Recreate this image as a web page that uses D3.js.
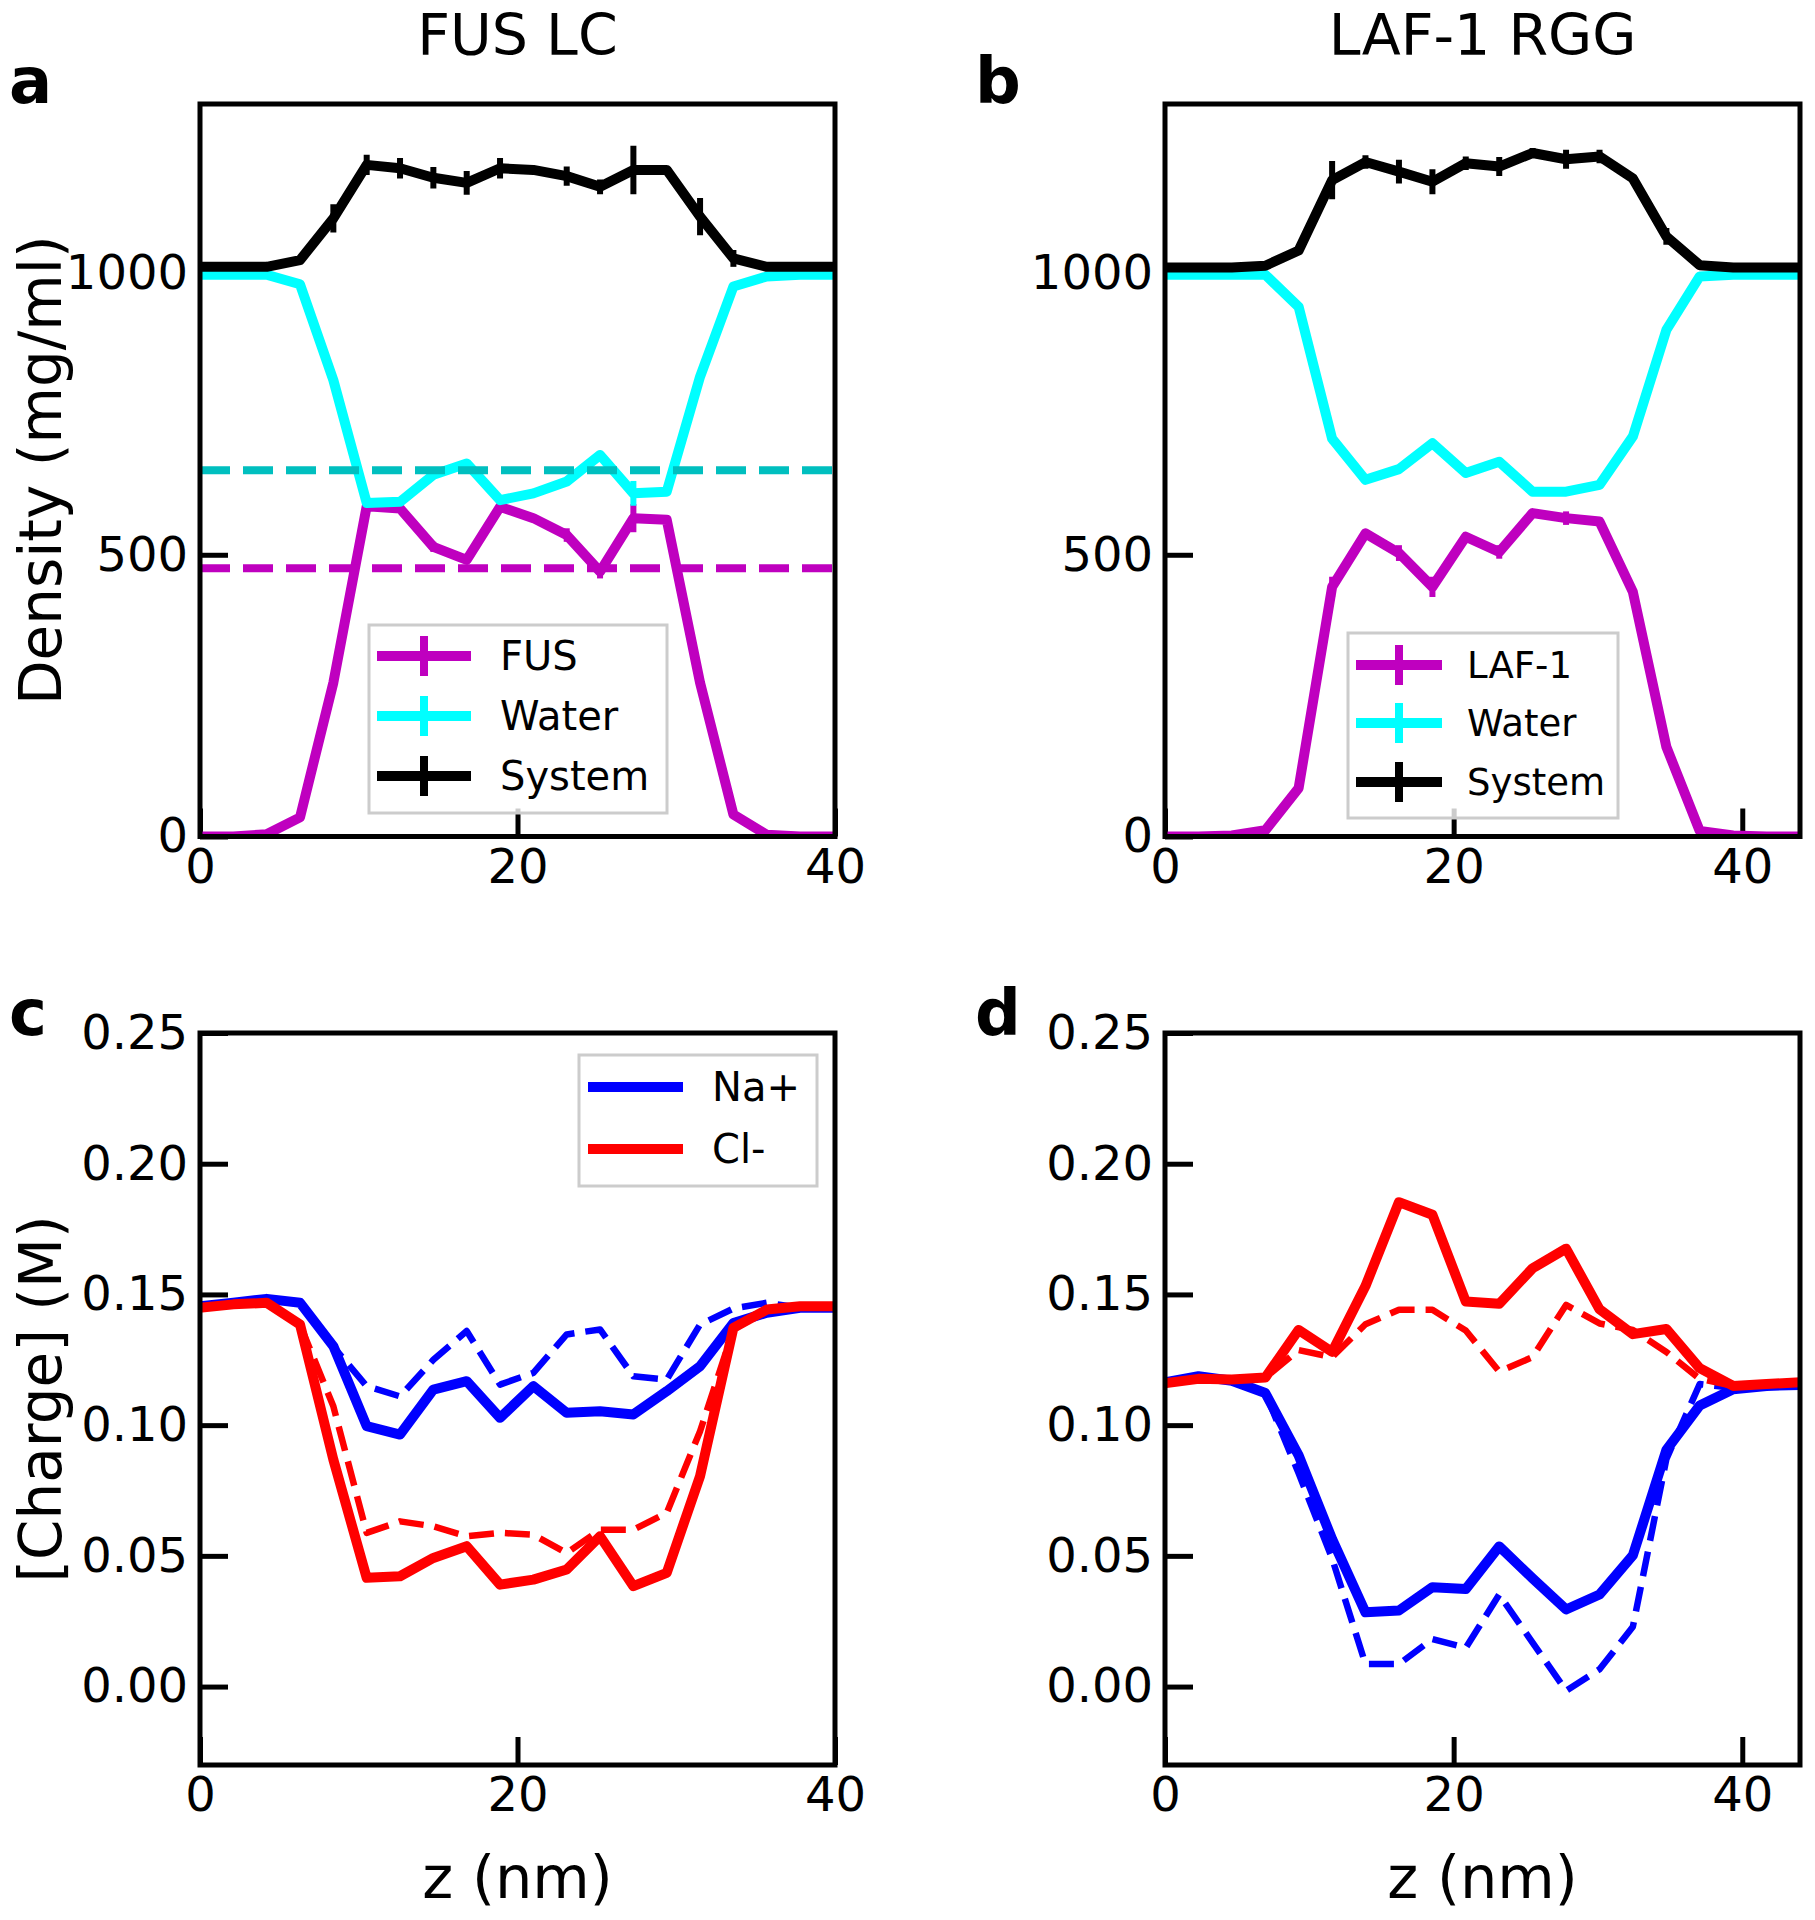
<!DOCTYPE html>
<html><head><meta charset="utf-8">
<script src="https://cdn.jsdelivr.net/npm/d3@7"></script>
<style>body{margin:0;background:#fff;} svg text{font-family:"DejaVu Sans",sans-serif;}</style>
</head><body><svg id="fig" width="1815" height="1920"></svg>
<script>
// ---------------- DATA ----------------
// z positions (nm) of the density bins
const zFus = [0,2.1,4.2,6.3,8.4,10.5,12.6,14.7,16.8,18.9,21.0,23.1,25.2,27.3,29.4,31.5,33.6,35.7,37.8,39.9];
const zLaf = [0,2.32,4.63,6.95,9.26,11.58,13.89,16.21,18.53,20.84,23.16,25.47,27.79,30.11,32.42,34.74,37.05,39.37,41.68,44.0];

// Panel a: FUS LC densities (mg/ml)
const fusDensity      = [0,0,4,34,273,586,582,514,491,585,565,535,470,565,562,273,39,3,0,0];
const fusDensityErr   = [0,0,0,0,0,0,6,9,0,0,0,12,12,25,0,0,0,0,0,0];
const waterDensityA   = [997,997,997,980,810,592,594,642,662,597,609,630,677,609,612,816,976,994,997,997];
const waterDensityAErr= [0,0,0,0,0,0,0,0,0,0,0,0,0,22,0,0,0,0,0,0];
const systemDensityA  = [1011,1011,1011,1023,1097,1192,1186,1169,1160,1186,1183,1172,1153,1183,1183,1100,1026,1011,1011,1011];
const systemDensityAErr=[0,0,0,0,25,18,18,19,21,18,5,17,13,43,5,33,15,0,0,0];
const fusReference    = 476;   // dashed magenta
const waterReferenceA = 650;   // dashed cyan

// Panel b: LAF-1 RGG densities (mg/ml)
const lafDensity      = [0,0,2,11,86,443,538,503,443,532,505,574,565,559,434,159,10,2,0,0];
const lafDensityErr   = [0,0,0,0,0,18,0,14,18,0,12,0,12,0,0,0,0,0,0,0];
const waterDensityB   = [997,997,997,997,940,706,633,652,698,645,665,612,612,624,710,899,994,997,997,997];
const waterDensityBErr= [0,0,0,0,0,8,0,0,0,0,0,0,0,0,0,0,0,0,0,0];
const systemDensityB  = [1010,1010,1010,1013,1040,1165,1197,1180,1162,1195,1189,1213,1202,1207,1168,1065,1014,1010,1010,1010];
const systemDensityBErr=[0,0,0,0,0,34,12,21,22,12,17,9,17,12,0,15,0,0,0,0];

// Panel c: FUS LC ion concentrations (M); solid and dashed
const naFus       = [0.1455,0.1468,0.1483,0.1468,0.1302,0.0996,0.0964,0.1136,0.1168,0.1028,0.1149,0.1047,0.1053,0.1041,0.113,0.1225,0.1391,0.143,0.1449,0.1449];
const naFusDash   = [0.1455,0.1468,0.1483,0.1468,0.130,0.1149,0.111,0.125,0.136,0.1155,0.12,0.1347,0.1366,0.1187,0.1174,0.1385,0.1446,0.1468,0.1449,0.1449];
const clFus       = [0.1449,0.1462,0.1468,0.1385,0.0868,0.0416,0.0422,0.0492,0.0537,0.039,0.0409,0.0448,0.0575,0.0384,0.0435,0.0805,0.1372,0.1442,0.1455,0.1455];
const clFusDash   = [0.1449,0.1462,0.1468,0.1385,0.1072,0.0588,0.0632,0.0613,0.0575,0.0588,0.0581,0.0511,0.0600,0.0600,0.0664,0.0977,0.1366,0.144,0.1455,0.1455];

// Panel d: LAF-1 RGG ion concentrations (M)
const naLaf       = [0.1164,0.1187,0.117,0.1123,0.0884,0.0564,0.0284,0.0291,0.038,0.0373,0.0536,0.0414,0.0295,0.0352,0.0502,0.0905,0.1075,0.1137,0.115,0.1154];
const naLafDash   = [0.1164,0.1187,0.117,0.1123,0.0816,0.049,0.0086,0.0086,0.0182,0.0148,0.0352,0.0168,-0.0016,0.0066,0.0229,0.087,0.1157,0.1143,0.115,0.1154];
const clLaf       = [0.116,0.1177,0.1175,0.1182,0.1364,0.128,0.1532,0.1853,0.1805,0.1473,0.1464,0.16,0.1675,0.1443,0.1348,0.1368,0.1218,0.115,0.1157,0.1164];
const clLafDash   = [0.116,0.1177,0.1175,0.1182,0.1287,0.126,0.1386,0.1441,0.1441,0.1362,0.1205,0.126,0.146,0.1389,0.1364,0.128,0.1177,0.115,0.1157,0.1164];

// Tick values and labels
const xTicks = [0,20,40];
const densityTicks = [0,500,1000];
const chargeTicks = [0,0.05,0.10,0.15,0.20,0.25];
const titles = ["FUS LC","LAF-1 RGG"];
const panelLetters = ["a","b","c","d"];
const legendDensityA = ["FUS","Water","System"];
const legendDensityB = ["LAF-1","Water","System"];
const legendIons = ["Na+","Cl-"];

// ---------------- DRAWING ----------------
const svg = d3.select('#fig');
svg.append('rect').attr('width',1815).attr('height',1920).attr('fill','#fff');
const FONT = '"DejaVu Sans", sans-serif';
const MAG = '#bf00bf', CYAN = '#00ffff', DCYAN = '#00bfbf';
const axisLayer = svg.append('g');
const lineLayer = svg.append('g');
const topLayer = svg.append('g');

function panel(id,L,T,R,B,xd,yd){
  const p = {id,L,T,R,B,
    x:d3.scaleLinear().domain(xd).range([L,R]),
    y:d3.scaleLinear().domain(yd).range([B,T])};
  svg.append('clipPath').attr('id','clip'+id).append('rect')
    .attr('x',L).attr('y',T).attr('width',R-L).attr('height',B-T);
  p.g = lineLayer.append('g').attr('clip-path',`url(#clip${id})`);
  return p;
}
const pa = panel('a',200,104,835,836.5,[0,40],[0,1300]);
const pb = panel('b',1165,104,1800,836.5,[0,44],[0,1300]);
const pc = panel('c',200,1033,835,1765,[0,40],[-0.03,0.25]);
const pd = panel('d',1165,1033,1800,1765,[0,44],[-0.03,0.25]);

function series(p,xs,ys,color,width,dash){
  const line = d3.line().x((d,i)=>p.x(xs[i])).y(d=>p.y(d));
  p.g.append('path').datum(ys).attr('d',line)
    .attr('fill','none').attr('stroke',color).attr('stroke-width',width)
    .attr('stroke-linejoin','round').attr('stroke-linecap',dash?'butt':'square')
    .attr('stroke-dasharray',dash||null);
}
function errbars(p,xs,ys,es,color){
  const d = ys.map((v,i)=>({x:xs[i],v,e:es[i]})).filter(d=>d.e>0);
  p.g.selectAll(null).data(d).join('line')
    .attr('x1',d=>p.x(d.x)).attr('x2',d=>p.x(d.x))
    .attr('y1',d=>p.y(d.v-d.e)).attr('y2',d=>p.y(d.v+d.e))
    .attr('stroke',color).attr('stroke-width',6);
}
function hline(p,v,color,width,dash){
  const [a,b]=p.x.domain();
  p.g.append('line').attr('x1',p.x(a)).attr('x2',p.x(b)).attr('y1',p.y(v)).attr('y2',p.y(v))
    .attr('stroke',color).attr('stroke-width',width).attr('stroke-dasharray',dash);
}

// Panel a
series(pa,zFus,fusDensity,MAG,10); errbars(pa,zFus,fusDensity,fusDensityErr,MAG);
series(pa,zFus,waterDensityA,CYAN,10); errbars(pa,zFus,waterDensityA,waterDensityAErr,CYAN);
series(pa,zFus,systemDensityA,'#000',10); errbars(pa,zFus,systemDensityA,systemDensityAErr,'#000');
hline(pa,waterReferenceA,DCYAN,8,'30,13');
hline(pa,fusReference,MAG,8,'30,13');
// Panel b
series(pb,zLaf,lafDensity,MAG,10); errbars(pb,zLaf,lafDensity,lafDensityErr,MAG);
series(pb,zLaf,waterDensityB,CYAN,10); errbars(pb,zLaf,waterDensityB,waterDensityBErr,CYAN);
series(pb,zLaf,systemDensityB,'#000',10); errbars(pb,zLaf,systemDensityB,systemDensityBErr,'#000');
// Panel c
const DASH = '25,11';
series(pc,zFus,naFus,'#0000ff',10);
series(pc,zFus,naFusDash,'#0000ff',6.5,DASH);
series(pc,zFus,clFus,'#ff0000',10);
series(pc,zFus,clFusDash,'#ff0000',6.5,DASH);
// Panel d
series(pd,zLaf,naLaf,'#0000ff',10);
series(pd,zLaf,naLafDash,'#0000ff',6.5,DASH);
series(pd,zLaf,clLaf,'#ff0000',10);
series(pd,zLaf,clLafDash,'#ff0000',6.5,DASH);

// Axes, ticks, frames
function axes(p,yTicks,yFmt){
  const gx = axisLayer.append('g').attr('transform',`translate(0,${p.B})`)
    .call(d3.axisBottom(p.x).tickValues(xTicks).tickSize(-28).tickPadding(12).tickFormat(d3.format('d')));
  const gy = axisLayer.append('g').attr('transform',`translate(${p.L},0)`)
    .call(d3.axisLeft(p.y).tickValues(yTicks).tickSize(-28).tickPadding(12).tickFormat(yFmt));
  [gx,gy].forEach(g=>{
    g.select('.domain').remove();
    g.attr('font-family',FONT).attr('font-size',48);
    g.selectAll('.tick line').attr('stroke','#000').attr('stroke-width',5);
    g.selectAll('.tick text').attr('fill','#000');
  });
  topLayer.append('rect').attr('x',p.L).attr('y',p.T).attr('width',p.R-p.L).attr('height',p.B-p.T)
    .attr('fill','none').attr('stroke','#000').attr('stroke-width',5);
}
axes(pa,densityTicks,d3.format('d'));
axes(pb,densityTicks,d3.format('d'));
axes(pc,chargeTicks,d3.format('.2f'));
axes(pd,chargeTicks,d3.format('.2f'));

// Legends
function legend(box,rowsY,hx0,hx1,tx,labels,colors,bar,fs){
  const g = topLayer.append('g');
  g.append('rect').attr('x',box[0]).attr('y',box[1]).attr('width',box[2]).attr('height',box[3])
    .attr('fill','#fff').attr('fill-opacity',0.8).attr('stroke','#cccccc').attr('stroke-width',3);
  labels.forEach((lab,i)=>{
    const y=rowsY[i];
    g.append('line').attr('x1',hx0).attr('x2',hx1).attr('y1',y).attr('y2',y)
      .attr('stroke',colors[i]).attr('stroke-width',10);
    if(bar){
      const cx=(hx0+hx1)/2;
      g.append('line').attr('x1',cx).attr('x2',cx).attr('y1',y-20).attr('y2',y+20)
        .attr('stroke',colors[i]).attr('stroke-width',8);
    }
    g.append('text').attr('x',tx).attr('y',y+0.36*fs).attr('font-size',fs)
      .attr('font-family',FONT).attr('fill','#000').text(lab);
  });
}
legend([369,625,298,188],[656,716,776],377,471,500,legendDensityA,[MAG,CYAN,'#000'],true,40);
legend([1348,633,270,185],[665,723,782],1356,1442,1467,legendDensityB,[MAG,CYAN,'#000'],true,37);
legend([579,1055,238,131],[1087,1149],588,683,712,legendIons,['#0000ff','#ff0000'],false,40);

// Titles, labels, panel letters
const txt = (x,y,s,fs,opt={})=>{
  const t=topLayer.append('text').attr('x',x).attr('y',y).attr('font-size',fs).attr('font-family',FONT)
    .attr('fill','#000').attr('text-anchor',opt.anchor||'start').text(s);
  if(opt.bold) t.attr('font-weight','bold');
  if(opt.rot) t.attr('transform',`rotate(-90,${x},${y})`);
  return t;
};
txt((pa.L+pa.R)/2,55,titles[0],57,{anchor:'middle'});
txt((pb.L+pb.R)/2,55,titles[1],57,{anchor:'middle'});
txt(61,(pa.T+pa.B)/2,'Density (mg/ml)',58,{anchor:'middle',rot:true});
txt(61,(pc.T+pc.B)/2,'[Charge] (M)',58,{anchor:'middle',rot:true});
txt((pc.L+pc.R)/2,1898,'z (nm)',59,{anchor:'middle'});
txt((pd.L+pd.R)/2,1898,'z (nm)',59,{anchor:'middle'});
txt(9,103,panelLetters[0],64,{bold:true});
txt(975,103,panelLetters[1],64,{bold:true});
txt(9,1035,panelLetters[2],64,{bold:true});
txt(975,1035,panelLetters[3],64,{bold:true});
</script></body></html>
